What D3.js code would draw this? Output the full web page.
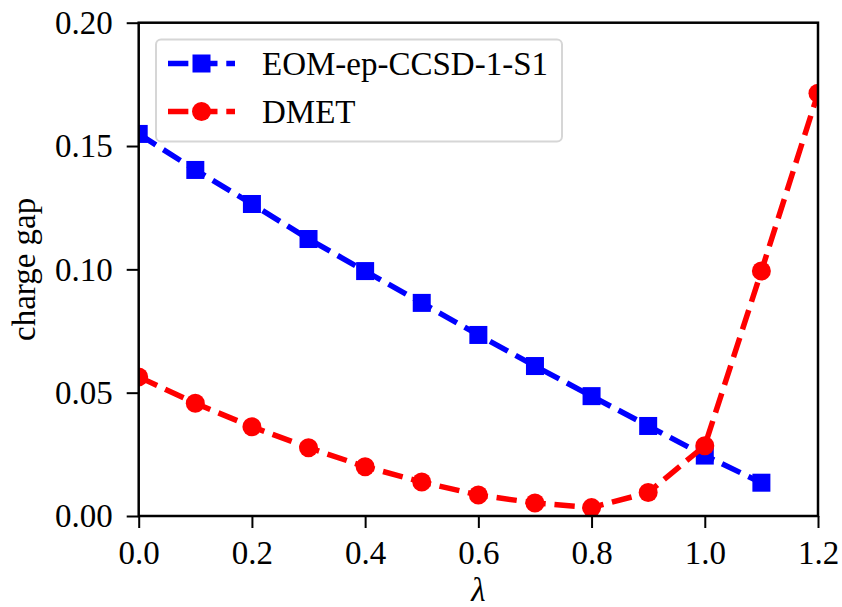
<!DOCTYPE html>
<html>
<head>
<meta charset="utf-8">
<script src="https://cdn.jsdelivr.net/npm/d3@7"></script>
<style>
  body { margin: 0; background: #fff; }
  svg text { font-family: "Liberation Serif", "Times New Roman", serif; fill: #000; }
</style>
</head>
<body>
<svg id="chart" width="842" height="607"></svg>
<script>
// values
var lambdas = [0.0, 0.1, 0.2, 0.3, 0.4, 0.5, 0.6, 0.7, 0.8, 0.9, 1.0, 1.1, 1.2];
var eomGap = [0.1549, 0.1403, 0.1265, 0.1123, 0.0993, 0.0864, 0.0734, 0.0608, 0.0486, 0.0365, 0.0245, 0.0135];
var dmetGap = [0.0564, 0.0457, 0.0362, 0.0277, 0.0200, 0.0138, 0.0085, 0.0053, 0.0034, 0.0095, 0.0285, 0.0993, 0.1714];
var xTicks = [0.0, 0.2, 0.4, 0.6, 0.8, 1.0, 1.2];
var yTicks = [0.00, 0.05, 0.10, 0.15, 0.20];
var seriesNames = ['EOM-ep-CCSD-1-S1', 'DMET'];

// plot box (window.top is read-only, so no "top" here)
var plotL = 138.7, plotR = 818, plotT = 22.7, plotB = 516;
var fontSize = 33;
var lw = 5.5;

var svg = d3.select('#chart');

var x = d3.scaleLinear().domain([0, 1.2]).range([plotL, plotR]);
var y = d3.scaleLinear().domain([0, 0.2]).range([plotB, plotT]);

svg.append('defs').append('clipPath').attr('id', 'plotClip')
  .append('rect').attr('x', plotL).attr('y', plotT).attr('width', plotR - plotL).attr('height', plotB - plotT);

var series = [
  {name: seriesNames[0], color: '#0000ff', shape: 'square',
   pts: eomGap.map(function(v, i){ return [lambdas[i], v]; })},
  {name: seriesNames[1], color: '#ff0000', shape: 'circle',
   pts: dmetGap.map(function(v, i){ return [lambdas[i], v]; })}
];

var line = d3.line().x(function(d){ return x(d[0]); }).y(function(d){ return y(d[1]); });
var dash = (3.7 * lw) + ',' + (1.6 * lw);
var msize = 18;

var plot = svg.append('g').attr('clip-path', 'url(#plotClip)');

function drawMarker(g, shape, cx, cy, color){
  if(shape === 'square'){
    g.append('rect')
      .attr('x', cx - msize / 2).attr('y', cy - msize / 2)
      .attr('width', msize).attr('height', msize)
      .attr('fill', color);
  } else {
    g.append('circle')
      .attr('cx', cx).attr('cy', cy).attr('r', msize / 2 + 0.5)
      .attr('fill', color);
  }
}

series.forEach(function(s){
  plot.append('path')
    .datum(s.pts)
    .attr('d', line)
    .attr('fill', 'none')
    .attr('stroke', s.color)
    .attr('stroke-width', lw)
    .attr('stroke-dasharray', dash);
  s.pts.forEach(function(p){
    drawMarker(plot, s.shape, x(p[0]), y(p[1]), s.color);
  });
});

// axes
var xAxis = d3.axisBottom(x).tickValues(xTicks).tickFormat(d3.format('.1f')).tickSizeOuter(0).tickSize(12).tickPadding(10);
var yAxis = d3.axisLeft(y).tickValues(yTicks).tickFormat(d3.format('.2f')).tickSizeOuter(0).tickSize(12).tickPadding(14);

var gx = svg.append('g').attr('transform', 'translate(0,' + plotB + ')').call(xAxis);
var gy = svg.append('g').attr('transform', 'translate(' + plotL + ',0)').call(yAxis);

[gx, gy].forEach(function(g){
  g.attr('font-family', null).attr('font-size', null);
  g.select('.domain').remove();
  g.selectAll('.tick line').attr('stroke', '#000').attr('stroke-width', 2);
  g.selectAll('.tick text').style('font-size', fontSize + 'px');
});
gx.selectAll('.tick text').attr('dy', '0.8em');
gy.selectAll('.tick text').attr('dy', '0.33em');

// frame
svg.append('rect')
  .attr('x', plotL).attr('y', plotT)
  .attr('width', plotR - plotL).attr('height', plotB - plotT)
  .attr('fill', 'none').attr('stroke', '#000').attr('stroke-width', 2.5);

// axis labels
svg.append('text')
  .attr('x', (plotL + plotR) / 2).attr('y', 601)
  .attr('text-anchor', 'middle')
  .style('font-size', fontSize + 'px')
  .style('font-style', 'italic')
  .text('λ');

svg.append('text')
  .attr('transform', 'translate(35,' + ((plotT + plotB) / 2) + ') rotate(-90)')
  .attr('text-anchor', 'middle')
  .style('font-size', fontSize + 'px')
  .text('charge gap');

// legend
var legend = svg.append('g');
legend.append('rect')
  .attr('x', 156).attr('y', 39.5)
  .attr('width', 406).attr('height', 102)
  .attr('rx', 5).attr('ry', 5)
  .attr('fill', '#fff').attr('fill-opacity', 0.8)
  .attr('stroke', '#d6d6d6').attr('stroke-width', 2);

var rowY = [63.5, 111.5];
series.forEach(function(s, i){
  var ly = rowY[i];
  legend.append('line')
    .attr('x1', 168).attr('x2', 235)
    .attr('y1', ly).attr('y2', ly)
    .attr('stroke', s.color)
    .attr('stroke-width', lw)
    .attr('stroke-dasharray', dash);
  drawMarker(legend, s.shape, 201.5, ly, s.color);
  legend.append('text')
    .attr('x', 262).attr('y', ly)
    .attr('dy', '0.35em')
    .style('font-size', fontSize + 'px')
    .text(s.name);
});
</script>
</body>
</html>
